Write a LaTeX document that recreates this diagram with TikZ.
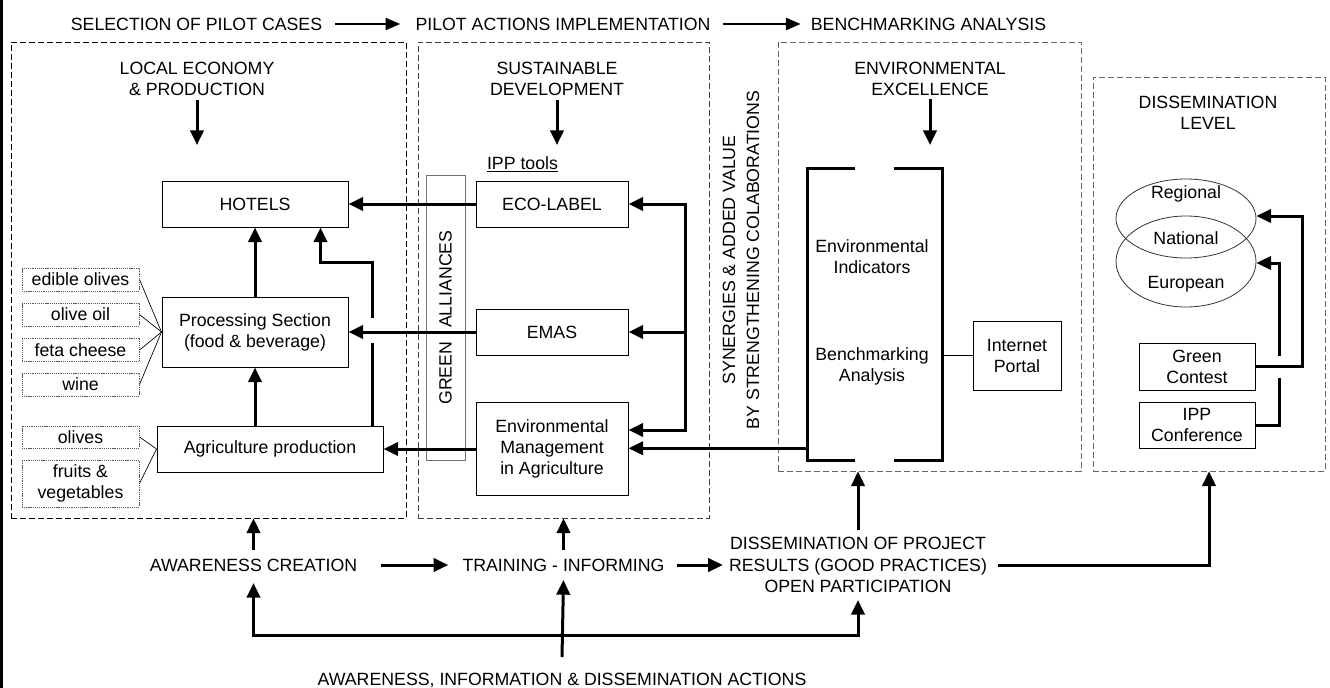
\documentclass[tikz,border=0pt]{standalone}
\usepackage{fontspec}
\setmainfont{Liberation Sans}
\usetikzlibrary{arrows.meta,calc,shapes.geometric}
\begin{document}
\begin{tikzpicture}[x=0.75pt,y=-0.75pt,
  every node/.style={font=\fontsize{13.3}{15.75}\selectfont, inner sep=0pt, align=center},
  sbox/.style={draw, line width=0.75pt},
  ibox/.style={draw=black!65, dash pattern=on 0.8pt off 0.6pt, line width=0.75pt, minimum width=87.75pt},
  grp/.style={draw=black!60, dash pattern=on 4.5pt off 2.25pt, line width=0.6pt},
  conn/.style={line width=2.25pt, -{Triangle[length=11pt,width=10pt]}},
  conntwo/.style={line width=2.25pt, {Triangle[length=11pt,width=10pt]}-{Triangle[length=11pt,width=10pt]}},
  tconn/.style={line width=1.5pt, -{Triangle[length=11pt,width=9pt]}},
  thinline/.style={line width=0.5pt},
  plainline/.style={line width=2.25pt},
]
\useasboundingbox (0,0) rectangle (1330,688);
\fill (0,0) rectangle (3,688);

% group boxes
\node[grp, draw=black, minimum width=296.25pt, minimum height=357pt] (g1) at (208.5,280) {};
\node[grp, draw=black!75, minimum width=218.25pt, minimum height=357pt] (g2) at (563.5,280) {};
\node[grp, minimum width=227.25pt, minimum height=321.75pt] (g3) at (929.5,256.5) {};
\node[grp, minimum width=174pt, minimum height=295.5pt] (g4) at (1209,274) {};

% top row
\node (t1) at (196.5,24) {SELECTION OF PILOT CASES};
\node (t2) at (563,24) {PILOT ACTIONS IMPLEMENTATION};
\node (t3) at (928.5,24) {BENCHMARKING ANALYSIS};
\draw[tconn] ($(t1.east)+(13,0)$) -- ($(t2.west)+(-15,0)$);
\draw[tconn] ($(t2.east)+(12,0)$) -- ($(t3.west)+(-10,0)$);

% headings
\node (h1) at (197,78.5) {LOCAL ECONOMY\\\& PRODUCTION};
\node (h2) at (557,78.5) {SUSTAINABLE\\DEVELOPMENT};
\node (h3) at (930,79) {ENVIRONMENTAL\\EXCELLENCE};
\node (h4) at (1208,113) {DISSEMINATION\\LEVEL};
\coordinate (h1a) at (197,145);
\coordinate (h2a) at (557,145);
\coordinate (h3a) at (930,145);
\draw[conn] (h1a |- 0,100) -- (h1a);
\draw[conn] (h2a |- 0,100) -- (h2a);
\draw[conn] (h3a |- 0,99) -- (h3a);

% local economy boxes
\node[sbox, minimum width=139.5pt, minimum height=34.5pt] (hotels) at (255,204) {HOTELS};
\node[sbox, minimum width=139.5pt, minimum height=52.5pt] (proc) at (255,332) {Processing Section\\(food \& beverage)};
\node[sbox, minimum width=169.5pt, minimum height=34.5pt] (agr) at (270,449) {Agriculture production};

\node[ibox, minimum height=17.25pt] (i1) at (80.5,279.5) {edible olives};
\node[ibox, minimum height=17.25pt] (i2) at (80.5,314.5) {olive oil};
\node[ibox, minimum height=17.25pt] (i3) at (80.5,350) {feta cheese};
\node[ibox, minimum height=17.25pt] (i4) at (80.5,384.5) {wine};
\node[ibox, minimum height=16.5pt] (i5) at (80.5,437) {olives};
\node[ibox, minimum height=35.25pt] (i6) at (80.5,483.5) {fruits \&\\vegetables};
\foreach \i in {i1,i2,i3,i4} \draw[thinline] (\i.east) -- (proc.west);
\foreach \i in {i5,i6} \draw[thinline] (\i.east) -- (agr.west);

% sustainable development
\node[draw=black!55, line width=0.75pt, minimum width=213.75pt, minimum height=29.25pt, rotate=90] (ga) at (445.5,317.5) {GREEN\hspace{6.5pt} ALLIANCES};
\node (ipptools) at (522.5,164) {\underline{IPP tools}};
\node[sbox, minimum width=114pt, minimum height=34.5pt] (eco) at (552,204) {ECO-LABEL};
\node[sbox, minimum width=114pt, minimum height=34.5pt] (emas) at (552,332) {EMAS};
\node[sbox, minimum width=114pt, minimum height=69.75pt] (envm) at (552,448.5) {Environmental\\Management\\in Agriculture};

\node[rotate=90, font=\fontsize{13.3}{18}\selectfont] (syn) at (741,260) {SYNERGIES \& ADDED VALUE\\BY STRENGTHENING COLABORATIONS};

% left connectors
\draw[conn] (eco.west) -- (hotels.east);
\draw[conn] (proc.north) -- (hotels.south);
\draw[conn] (proc.south |- agr.north) -- (proc.south);
\coordinate (k0) at ($(agr.north east)+(-11,0)$);
\draw[conn] (k0) |- ($(hotels.south east)+(-28,35)$) -- ($(hotels.south east)+(-28,0)$);
\draw[white, line width=4pt] ($(k0 |- proc.east)+(0,-14)$) -- ($(k0 |- proc.east)+(0,11)$);
\draw[conn] (emas.west) -- (proc.east);
\draw[conn] (envm.west |- agr.east) -- (agr.east);

% collector
\coordinate (c1) at (685,204);
\coordinate (c3) at (685,430);
\draw[conntwo] (envm.east |- c3) -- (c3) -- (c1) -- (eco.east);
\draw[conn] (c1 |- emas.east) -- (emas.east);

% benchmarking
\node[minimum width=100.5pt, minimum height=218.25pt] (bench) at (875,314.5) {};
\draw[plainline] ($(bench.north west)+(47,0)$) -- (bench.north west) -- (bench.south west) -- ($(bench.south west)+(47,0)$);
\draw[plainline] ($(bench.north east)+(-48,0)$) -- (bench.north east) -- (bench.south east) -- ($(bench.south east)+(-48,0)$);
\node (ei) at (872,257) {Environmental\\Indicators};
\node (ba) at (872,366.5) {Benchmarking\\Analysis};
\node[sbox, minimum width=66pt, minimum height=51.75pt] (portal) at (1017,355.5) {Internet\\Portal};
\draw[line width=1.2pt] (bench.east |- portal.west) -- (portal.west);
\coordinate (b1) at ($(bench.south west)+(0,-12)$);
\draw[conn] (b1) -- (b1 -| envm.east);

% dissemination level
\node[ellipse, draw=black!80, line width=0.6pt, minimum width=105pt, minimum height=59.25pt] (reg) at (1186,218.5) {};
\node[ellipse, draw=black!80, line width=0.6pt, minimum width=105pt, minimum height=68.25pt] (eur) at (1186,261.5) {};
\node (treg) at (1186,194) {Regional};
\node (tnat) at (1186,238) {National};
\node (teur) at (1186,284) {European};
\node[sbox, minimum width=87pt, minimum height=35.25pt] (gc) at (1197,366.5) {Green\\Contest};
\node[sbox, minimum width=87pt, minimum height=34.5pt] (ippc) at (1197,425) {IPP\\Conference};
\coordinate (cR) at (1302,216);
\coordinate (cE) at (1279,263);
\draw[conn] (ippc.east) -| (cE) -- (cE -| eur.east);
\draw[white, line width=4pt] (cE |- 0,356) -- (cE |- 0,378);
\draw[conn] (gc.east) -| (cR) -- (cR -| reg.east);

% bottom row
\node (aw) at (253.5,565) {AWARENESS CREATION};
\node (tr) at (563.5,565) {TRAINING - INFORMING};
\node[font=\fontsize{13.3}{16.1}\selectfont] (diss) at (858,565) {DISSEMINATION OF PROJECT\\RESULTS (GOOD PRACTICES)\\OPEN PARTICIPATION};
\node (act) at (562,680) {AWARENESS, INFORMATION \& DISSEMINATION ACTIONS};

\draw[conn] ($(aw.east)+(24,0)$) -- ($(tr.west)+(-14,0)$);
\draw[conn] ($(tr.east)+(12,0)$) -- ($(diss.west)+(-6,0)$);
\draw[conn] ($(diss.east)+(11,0)$) -| (g4.south);
\draw[conn] (aw.north |- 0,550) -- (aw.north |- g1.south);
\draw[conn] (tr.north |- 0,550) -- (tr.north |- g2.south);
\draw[conn] (diss.north |- 0,530) -- (diss.north |- g3.south);
\draw[conntwo] (aw.south |- 0,583) -- (aw.south |- 0,635) -- (diss.south |- 0,635) -- (diss.south |- 0,600);
\draw[conn] (act.north |- 0,657) -- (tr.south |- 0,580);
\end{tikzpicture}
\end{document}
